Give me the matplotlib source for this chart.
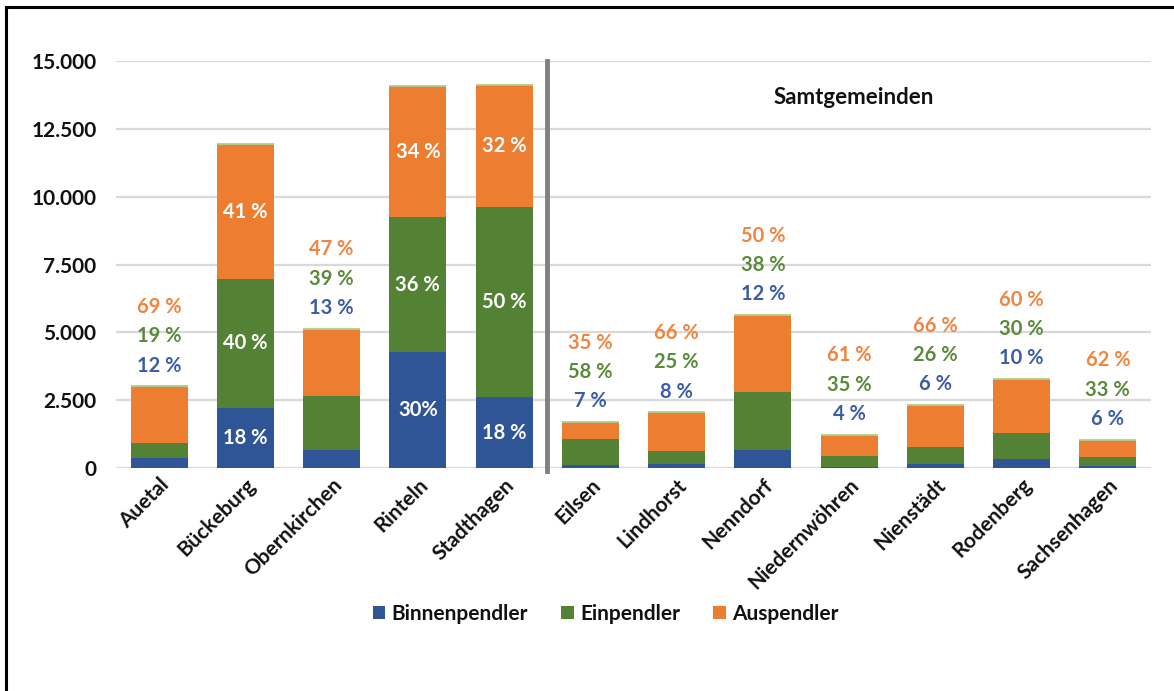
import matplotlib
matplotlib.use("Agg")
import matplotlib.pyplot as plt
from matplotlib.lines import Line2D
import numpy as np

plt.rcParams['font.family'] = ['Lato', 'DejaVu Sans']

categories = ["Auetal", "Bückeburg", "Obernkirchen", "Rinteln", "Stadthagen",
              "Eilsen", "Lindhorst", "Nenndorf", "Niedernwöhren", "Nienstädt",
              "Rodenberg", "Sachsenhagen"]
binnen = [370, 2230, 660, 4270, 2600, 115, 150, 680, 50, 130, 320, 60]
ein = [540, 4730, 1990, 4970, 7030, 950, 490, 2130, 380, 630, 960, 340]
aus = [2100, 4980, 2490, 4840, 4490, 620, 1410, 2820, 800, 1570, 2000, 650]

pct_binnen = ["12 %", "18 %", "13 %", "30%", "18 %", "7 %", "8 %", "12 %", "4 %", "6 %", "10 %", "6 %"]
pct_ein = ["19 %", "40 %", "39 %", "36 %", "50 %", "58 %", "25 %", "38 %", "35 %", "26 %", "30 %", "33 %"]
pct_aus = ["69 %", "41 %", "47 %", "34 %", "32 %", "35 %", "66 %", "50 %", "61 %", "66 %", "60 %", "62 %"]
inside = [False, True, False, True, True, False, False, False, False, False, False, False]

series_names = ["Binnenpendler", "Einpendler", "Auspendler"]
yticks = [0, 2500, 5000, 7500, 10000, 12500, 15000]
ytick_labels = ["0", "2.500", "5.000", "7.500", "10.000", "12.500", "15.000"]
group_label = "Samtgemeinden"

c_blue = "#2F5597"
c_green = "#548235"
c_orange = "#ED7D31"
lbl_blue = "#3A5DA6"
lbl_green = "#5A8A3A"
lbl_orange = "#EF8540"
txt_col = "#111111"

fig = plt.figure(figsize=(11.74, 6.91), dpi=100)
ax = fig.add_axes([0.0988, 0.3227, 0.8816, 0.589])

x = np.arange(len(categories))
b = np.array(binnen, dtype=float)
e = np.array(ein, dtype=float)
a = np.array(aus, dtype=float)
w = 0.66

ax.bar(x, b, width=w, color=c_blue, label=series_names[0], zorder=3)
ax.bar(x, e, width=w, bottom=b, color=c_green, label=series_names[1], zorder=3)
ax.bar(x, a, width=w, bottom=b + e, color=c_orange, label=series_names[2], zorder=3)
tot = b + e + a
ax.bar(x, np.zeros_like(tot), width=w, bottom=tot, color="none",
       edgecolor="#A9D18E", linewidth=1.3, zorder=4)

fs = 14.5
for i in range(len(categories)):
    if inside[i]:
        ax.text(x[i], b[i] / 2, pct_binnen[i], ha="center", va="center",
                color="white", fontsize=fs, fontweight="bold", zorder=5)
        ax.text(x[i], b[i] + e[i] / 2, pct_ein[i], ha="center", va="center",
                color="white", fontsize=fs, fontweight="bold", zorder=5)
        ax.text(x[i], b[i] + e[i] + a[i] / 2, pct_aus[i], ha="center", va="center",
                color="white", fontsize=fs, fontweight="bold", zorder=5)
    else:
        for k, (txt, col) in enumerate([(pct_binnen[i], lbl_blue),
                                         (pct_ein[i], lbl_green),
                                         (pct_aus[i], lbl_orange)]):
            ax.annotate(txt, xy=(x[i], tot[i]), xytext=(0, 15 + 21 * k),
                        textcoords="offset points", ha="center", va="center",
                        color=col, fontsize=fs, fontweight="bold", zorder=5)

ax.set_xlim(-0.5, len(categories) - 0.5)
ax.set_ylim(0, 15000)
ax.set_yticks(yticks)
ax.set_yticklabels(ytick_labels, fontsize=15, fontweight="bold", color=txt_col)
ax.yaxis.grid(True, color="#D9D9D9", linewidth=1.6, zorder=0)
ax.set_axisbelow(True)
ax.tick_params(axis="y", length=0, pad=14)
ax.tick_params(axis="x", length=0, pad=5)
ax.set_xticks(x)
ax.set_xticklabels(categories, rotation=45, ha="right", va="top",
                   rotation_mode="anchor", fontsize=15, fontweight="bold",
                   color=txt_col)
for s in ax.spines.values():
    s.set_visible(False)

ax.axvline(4.5, ymin=-0.008, ymax=1.0, color="#808080", linewidth=3.5,
           clip_on=False, zorder=4)
ax.text(8.05, 13650, group_label, ha="center", va="center", fontsize=16,
        fontweight="bold", color=txt_col)

leg = fig.legend(loc="center", bbox_to_anchor=(0.516, 0.112), ncol=3,
                 frameon=False, fontsize=15, handlelength=0.6, handleheight=0.6,
                 handletextpad=0.3, columnspacing=1.6)
for t in leg.get_texts():
    t.set_fontweight("bold")
    t.set_color(txt_col)

# frame lines of the screenshot (top and left)
fig.add_artist(Line2D([5.5 / 1174, 1.0], [1 - 7 / 691, 1 - 7 / 691],
                      transform=fig.transFigure, color="black", linewidth=2.2))
fig.add_artist(Line2D([5.5 / 1174, 5.5 / 1174], [0.0, 1 - 7 / 691],
                      transform=fig.transFigure, color="black", linewidth=2.2))

fig.savefig("out.png", dpi=100, facecolor="white")
